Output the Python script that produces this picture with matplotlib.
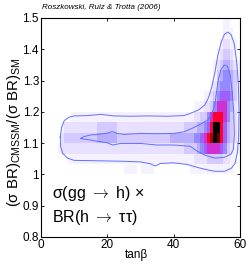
import numpy as np
import matplotlib
matplotlib.use("Agg")
import matplotlib.pyplot as plt
from matplotlib.colors import ListedColormap, BoundaryNorm

plt.rcParams['font.family'] = ['Liberation Sans', 'DejaVu Sans']
plt.rcParams['mathtext.fontset'] = 'custom'
plt.rcParams['mathtext.rm'] = 'Liberation Sans'
plt.rcParams['mathtext.it'] = 'Liberation Sans:italic'

# 2D posterior histogram, tanb bins of 1 (0..60), ratio bins of 1/30 (0.8..1.5)
# rows listed top (1.5) to bottom (0.8); one char per bin = intensity level
level_chars = "0123456789ab"
hist_rows = [
    "0000000000 0000000000 0000000000 0000000000 0000000000 0000011000",
    "0000000000 0000000000 0000000000 0000000000 0000000000 0000011100",
    "0000000000 0000000000 0000000000 0000000000 0000000000 0000122110",
    "0000000000 0000000000 0000000000 0000000000 0000000000 0001233210",
    "0000000000 0000000000 0000000000 0000000000 0000000000 0012344321",
    "0000000000 0000000000 0000000000 0000000000 0000000000 0013455431",
    "0000000000 0000000000 0000000000 0000000000 0000000000 0124555431",
    "0000000000 0000000000 0000000000 0000000000 0000000001 1235666531",
    "0000000000 0000000000 0000000000 0000000000 0000001112 2357775421",
    "0000000001 1111111111 1111111111 1111111111 1111112233 5788875321",
    "0000001222 2222222333 3332222222 2222222222 2223333445 68bb864321",
    "0000002333 3333333444 4443333333 3333333334 4444445567 89ba864321",
    "0000012222 2222222222 2222222222 2222222222 2223333456 7777653211",
    "0000000011 1111111111 1111111111 1111111111 1111112222 3333322110",
    "0000000000 0000000000 0000011110 1111000000 0000011111 1111111100",
    "0000000000 0000000000 0000000000 0000000000 0000000000 0000000000",
    "0000000000 0000000000 0000000000 0000000000 0000000000 0000000000",
    "0000000000 0000000000 0000000000 0000000000 0000000000 0000000000",
    "0000000000 0000000000 0000000000 0000000000 0000000000 0000000000",
    "0000000000 0000000000 0000000000 0000000000 0000000000 0000000000",
    "0000000000 0000000000 0000000000 0000000000 0000000000 0000000000",
]
level_colors = ['#ffffff', '#f5f1ff', '#e8e0ff', '#d4caff', '#b8aeff', '#958aff',
                '#a060f8', '#d030d0', '#ff0030', '#b00000', '#600000', '#000000']

tanb_edges = np.linspace(0, 60, 61)
ratio_edges = np.linspace(0.8, 1.5, 22)

# contour lines (68% inner, 95% outer), (tanb, ratio)
outer_tanb = [5.8, 6.2, 7.0, 8.5, 10, 14, 18, 22, 27, 32, 38, 43, 45, 47.5, 49.4, 50.5,
              51.5, 52.5, 53.3, 54.4, 55.3, 56.3, 57.3, 58.2, 59.0, 59.5, 59.7, 59.6,
              59.2, 58.5, 57.4, 55.4, 52.5, 50, 47.3, 44, 40, 36, 34.4, 33, 30, 25, 20,
              15, 10, 8, 6.5, 5.9, 5.8]
outer_ratio = [1.12, 1.15, 1.172, 1.183, 1.187, 1.188, 1.192, 1.187, 1.186, 1.187, 1.186,
               1.188, 1.195, 1.206, 1.222, 1.245, 1.28, 1.33, 1.38, 1.425, 1.448, 1.455,
               1.447, 1.42, 1.36, 1.29, 1.2, 1.12, 1.07, 1.035, 1.02, 1.01, 1.01, 1.015,
               1.022, 1.032, 1.037, 1.035, 1.027, 1.034, 1.04, 1.042, 1.043, 1.044,
               1.045, 1.052, 1.068, 1.09, 1.12]
inner_tanb = [11.9, 13, 15, 18, 20, 21.5, 23, 25, 30, 35, 40, 43, 45.5, 48, 50.3, 51.5,
              52.4, 53, 53.5, 54.3, 55.2, 56.2, 57, 57.7, 58.1, 58.3, 58, 57.3, 55.4,
              52.4, 49.3, 47, 45, 40, 35, 30, 24, 21.6, 20, 17, 15, 13, 11.9]
inner_ratio = [1.115, 1.121, 1.126, 1.129, 1.132, 1.137, 1.131, 1.128, 1.131, 1.13, 1.131,
               1.136, 1.147, 1.16, 1.174, 1.195, 1.22, 1.27, 1.305, 1.335, 1.35, 1.345,
               1.32, 1.26, 1.2, 1.13, 1.08, 1.065, 1.055, 1.052, 1.062, 1.075, 1.09,
               1.094, 1.094, 1.099, 1.099, 1.094, 1.101, 1.106, 1.11, 1.113, 1.115]

grid = np.array([[level_chars.index(c) for c in row.replace(" ", "")] for row in hist_rows])[::-1]

fig = plt.figure(figsize=(2.49, 2.65), dpi=100)
ax = fig.add_axes([0.1647, 0.1057, 0.7992, 0.8264])

cmap = ListedColormap(level_colors)
norm = BoundaryNorm(np.arange(-0.5, len(level_colors)), cmap.N)
ax.pcolormesh(tanb_edges, ratio_edges, grid, cmap=cmap, norm=norm)

line_col = '#6070ff'
ax.plot(outer_tanb, outer_ratio, color=line_col, lw=0.7)
ax.plot(inner_tanb, inner_ratio, color=line_col, lw=0.7)

ax.set_xlim(0, 60)
ax.set_ylim(0.8, 1.5)
ax.set_xticks([0, 20, 40, 60])
ax.set_yticks([0.8, 0.9, 1.0, 1.1, 1.2, 1.3, 1.4, 1.5])
ax.set_yticklabels(['0.8', '0.9', '1', '1.1', '1.2', '1.3', '1.4', '1.5'])
ax.tick_params(direction='in', length=2.2, width=0.6, top=True, right=True,
               labelsize=8.5, pad=1.5)
for s in ax.spines.values():
    s.set_linewidth(0.8)

ax.set_xlabel('tanβ', fontsize=8.5)
ax.xaxis.set_label_coords(0.48, -0.055)
ax.set_ylabel('$\\mathregular{(σ\\ BR)_{CMSSM}/(σ\\ BR)_{SM}}$', fontsize=10.8)
ax.yaxis.set_label_coords(-0.09, 0.48)

ax.text(0.055, 0.20, 'σ(gg $\\rightarrow$ h) ×', transform=ax.transAxes, fontsize=11.5,
        va='center', ha='left', math_fontfamily='cm')
ax.text(0.055, 0.091, 'BR(h $\\rightarrow$ ττ)', transform=ax.transAxes, fontsize=11.5,
        va='center', ha='left', math_fontfamily='cm')

fig.text(0.169, 0.97, 'Roszkowski, Ruiz & Trotta (2006)', fontsize=5.8,
         style='italic', va='center', ha='left')

fig.savefig('out.png', dpi=100)
